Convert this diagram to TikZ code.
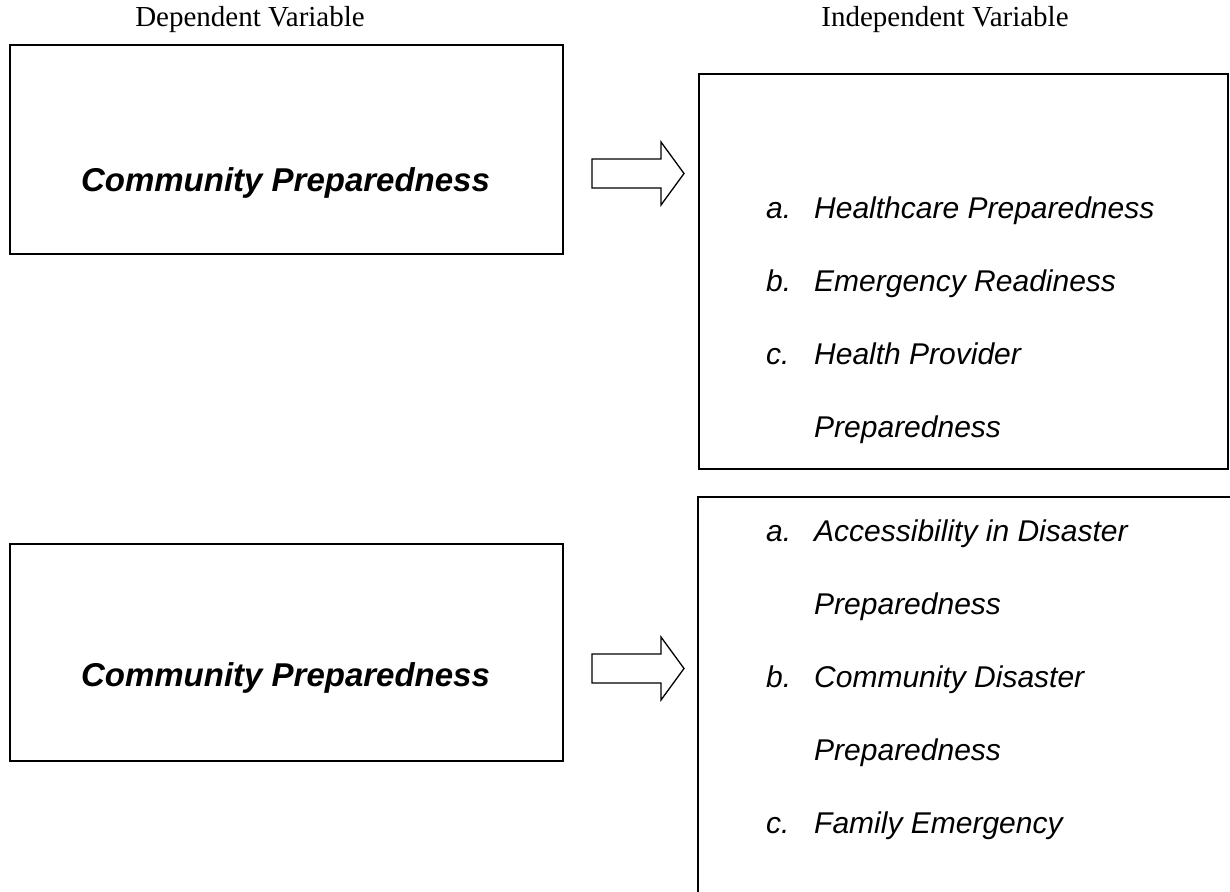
\documentclass[tikz,border=0pt]{standalone}
\usepackage{fontspec}
\setmainfont{Liberation Serif}
\newfontfamily\arialfont{Liberation Sans}
\usetikzlibrary{calc}

\tikzset{
  frame/.style={draw=black, line width=2pt, inner sep=0, anchor=north west},
  boxtext/.style={font=\arialfont\bfseries\itshape\fontsize{33}{38}\selectfont, anchor=base, inner sep=0},
  listtext/.style={font=\arialfont\itshape\fontsize{30}{36}\selectfont, anchor=base west, inner sep=0},
  header/.style={font=\fontsize{29}{34}\selectfont, anchor=base, inner sep=0},
  blockarrow/.style={draw=black, line width=1.3pt, fill=white, line join=miter},
  pics/fatarrow/.style={code={
    \draw[blockarrow] (0,-14.5) -- (69,-14.5) -- (69,-31.5) -- (92,0)
      -- (69,31.5) -- (69,14.5) -- (0,14.5) -- cycle;}}
}

\begin{document}
\begin{tikzpicture}[x=1pt, y=-1pt]
\useasboundingbox (0,0) rectangle (1230,891);
\clip (0,0) rectangle (1230,891);

% column headings
\node[header] (hdep) at (250,27) {Dependent Variable};
\node[header] (hind) at (945,27) {Independent Variable};

% upper row
\node[frame, minimum width=553pt, minimum height=209pt] (dep1) at (9,44) {};
\node[boxtext] (dep1t) at (285.5,191) {Community Preparedness};
\pic at (592,173.5) {fatarrow};
\node[frame, minimum width=529pt, minimum height=395pt] (ind1) at (698,73) {};
\node[listtext] (i1a) at (766,218) {a.};
\node[listtext] (i1at) at (814,218) {Healthcare Preparedness};
\node[listtext] (i1b) at (766,291) {b.};
\node[listtext] (i1bt) at (814,291) {Emergency Readiness};
\node[listtext] (i1c) at (766,364) {c.};
\node[listtext] (i1ct) at (814,364) {Health Provider};
\node[listtext] (i1ct2) at (814,437) {Preparedness};

% lower row
\node[frame, minimum width=553pt, minimum height=217pt] (dep2) at (9,543) {};
\node[boxtext] (dep2t) at (285.5,686) {Community Preparedness};
\pic at (592,668.5) {fatarrow};
\coordinate (ind2bl) at (698,900);
\coordinate (ind2tl) at (698,497);
\coordinate (ind2tr) at (1240,497);
\draw[line width=2pt] (ind2bl) -- (ind2tl) -- (ind2tr);
\node[listtext] (i2a) at (766,541) {a.};
\node[listtext] (i2at) at (814,541) {Accessibility in Disaster};
\node[listtext] (i2at2) at (814,614) {Preparedness};
\node[listtext] (i2b) at (766,687) {b.};
\node[listtext] (i2bt) at (814,687) {Community Disaster};
\node[listtext] (i2bt2) at (814,760) {Preparedness};
\node[listtext] (i2c) at (766,833) {c.};
\node[listtext] (i2ct) at (814,833) {Family Emergency};
\end{tikzpicture}
\end{document}
